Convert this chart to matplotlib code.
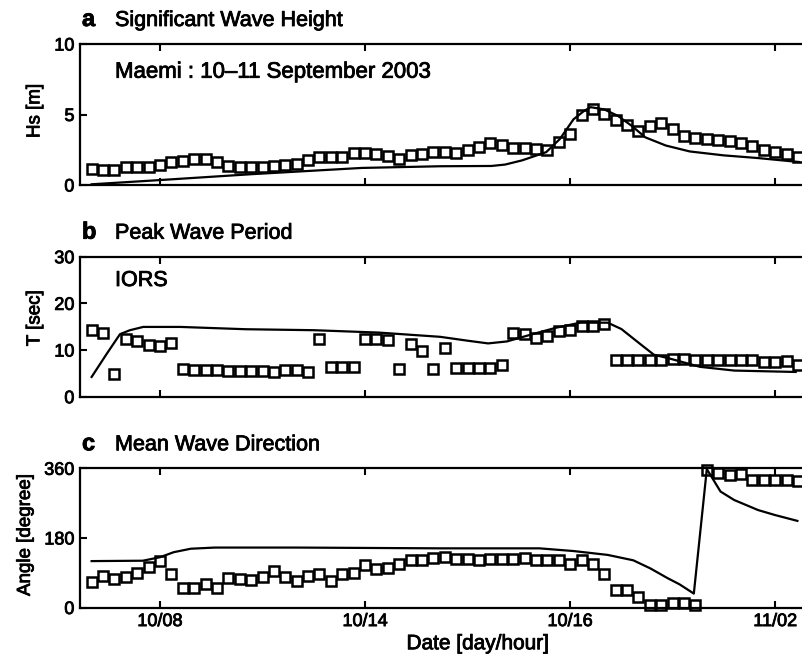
import numpy as np
import matplotlib
matplotlib.use("Agg")
import matplotlib.pyplot as plt
import matplotlib.patheffects as pe

plt.rcParams['font.family'] = ['Liberation Sans', 'DejaVu Sans']

# observation times (hours from 10/00), one every 20 minutes
obs_t = 6 + np.arange(63) / 3.0

hs_obs = [1.17, 1.05, 1.05, 1.28, 1.28, 1.28, 1.40, 1.63, 1.70, 1.86, 1.86, 1.63, 1.33, 1.28, 1.28, 1.28,
          1.33, 1.40, 1.47, 1.80, 1.98, 1.98, 1.98, 2.26, 2.28, 2.21, 2.05, 1.86, 2.15, 2.17, 2.33,
          2.33, 2.28, 2.45, 2.68, 2.96, 2.87, 2.63, 2.61, 2.52, 2.45, 3.03, 3.61, 4.94, 5.36, 5.01,
          4.62, 4.24, 3.85, 4.20, 4.38, 3.96, 3.45, 3.31, 3.26, 3.19, 3.15, 2.98, 2.80, 2.45, 2.33,
          2.21, 1.98]
hs_model_t = [6.0, 8.0, 10.7, 13.9, 16.2, 17.7, 18.1, 18.6, 19.3, 19.7, 20.1, 20.4, 20.6, 21.0,
              21.4, 21.8, 22.2, 22.8, 23.5, 24.5, 25.5, 26.7]
hs_model = [0.05, 0.35, 0.77, 1.21, 1.33, 1.35, 1.45, 1.75, 2.33, 3.26, 4.66, 5.24, 5.52, 5.36,
            4.9, 4.2, 3.38, 2.8, 2.38, 2.1, 1.91, 1.63]

tp_obs = [14.25, 13.6, 4.8, 12.35, 12.0, 11.08, 10.78, 11.5, 6.0, 5.8, 5.8, 5.64, 5.43, 5.43, 5.5,
          5.43, 5.29, 5.64, 5.64, 5.29, 12.47, 6.34, 6.34, 6.34, 12.47, 12.47, 12.2, 5.86, 11.29,
          9.73, 5.86, 10.36,
          6.13, 6.13, 6.13, 6.13, 6.85, 13.6, 13.4, 12.68, 13.04, 14.1, 14.25, 15.16, 15.16, 15.64,
          7.76, 7.97, 7.97, 7.97, 7.76, 8.12, 8.12, 7.76, 7.9, 7.97, 7.97, 7.97, 7.97, 7.4, 7.4,
          7.55, 6.85]
tp_model_t = [6.0, 6.44, 6.83, 7.12, 7.51, 8.6, 10.5, 12.5, 14.4, 16.2, 17.0, 17.6, 18.15, 18.9,
              19.6, 20.3, 21.1, 21.5, 22.05, 22.45, 22.9, 23.8, 24.8, 26.6]
tp_model = [4.23, 9.17, 13.4, 14.25, 14.95, 14.95, 14.46, 14.25, 13.74, 12.83, 12.0, 11.42, 11.84,
            13.4, 14.8, 15.86, 15.86, 14.5, 11.3, 9.0, 8.2, 6.4, 5.6, 5.3]

dir_obs = [65.7, 81.3, 74.5, 78.7, 89.1, 104.7, 119.5, 85.7, 51.2, 51.2, 59.7, 51.2, 77.1, 74.5,
           70.1, 78.7, 93.5, 78.7, 68.3, 80.5, 87.5, 68.3, 87.5, 90.1, 110.9, 98.7, 102.1, 113.5,
           123.9, 123.9, 128.0, 130.6,
           126.5, 124.7, 122.1, 124.7, 124.7, 124.7, 128.0, 122.1, 122.1, 122.1, 113.5, 122.1, 113.5,
           85.7, 46.0, 44.1, 26.7, 5.2, 5.2, 11.2, 11.2, 7.0, 355.0, 347.2, 342.8, 345.4, 329.8,
           329.8, 329.8, 329.8, 328.0]
dir_model_t = [6.0, 7.5, 8.0, 8.4, 8.9, 9.6, 12.0, 16.2, 19.1, 20.1, 21.1, 21.85, 22.35, 22.85,
               23.2, 23.62, 24.0, 24.4, 24.8, 25.5, 26.0, 26.65]
dir_model = [120, 121, 130, 143, 152, 155, 155, 153, 153, 146, 136, 122, 101, 76, 60, 36, 358,
             300, 278, 252, 239, 224]

xtick_pos = [8, 14, 20, 26]
xtick_labels = ['10/08', '10/14', '10/16', '11/02']

# slightly heavier text, like the scanned original
heavy = [pe.withStroke(linewidth=0.6, foreground='black')]

W, H = 802, 665
fig = plt.figure(figsize=(W / 100, H / 100), dpi=100)

def make_ax(top, bottom):
    ax = fig.add_axes([80 / W, 1 - bottom / H, (876 - 80) / W, (bottom - top) / H])
    ax.set_xlim(5.66, 28.95)
    ax.set_xticks(xtick_pos)
    ax.tick_params(direction='in', top=True, right=True, length=5, width=1.5,
                   labelsize=13, pad=4)
    for s in ax.spines.values():
        s.set_linewidth(1.6)
    return ax

panels = [
    (44, 185, 'a', 'Significant Wave Height', hs_obs, hs_model_t, hs_model, (0, 10), [0, 5, 10], 'Hs [m]', 0.525),
    (256.7, 396.7, 'b', 'Peak Wave Period', tp_obs, tp_model_t, tp_model, (0, 30), [0, 10, 20, 30], 'T [sec]', 0.56),
    (468.3, 607.5, 'c', 'Mean Wave Direction', dir_obs, dir_model_t, dir_model, (0, 360), [0, 180, 360], 'Angle [degree]', 0.52),
]

axes = []
for top, bottom, letter, title, obs, mt, mv, ylim, yt, ylab, ly in panels:
    ax = make_ax(top, bottom)
    ax.plot(mt, mv, color='black', lw=1.6)
    ax.plot(obs_t, obs, ls='none', marker='s', ms=7, mfc='none', mec='black', mew=1.8, clip_on=False)
    ax.set_ylim(*ylim)
    ax.set_yticks(yt)
    ax.set_ylabel(ylab, fontsize=13.5, path_effects=heavy)
    ax.yaxis.set_label_coords(-0.046 if letter != 'c' else -0.058, ly)
    fig.text(82 / W, 1 - (top - 18) / H, letter, fontsize=17, fontweight='bold', va='baseline',
             path_effects=heavy)
    fig.text(115 / W, 1 - (top - 18) / H, title, fontsize=15.5, va='baseline', path_effects=heavy)
    axes.append(ax)

axes[0].set_xticklabels([])
axes[1].set_xticklabels([])
axes[2].set_xticklabels(xtick_labels)
axes[2].set_xlabel('Date [day/hour]', fontsize=15, labelpad=3, path_effects=heavy)

for ax in axes:
    for lab in ax.get_xticklabels() + ax.get_yticklabels():
        lab.set_path_effects(heavy)

axes[0].text(0.044, 0.80, 'Maemi : 10\u201311 September 2003', transform=axes[0].transAxes,
             fontsize=16, va='center', path_effects=heavy)
axes[1].text(0.044, 0.83, 'IORS', transform=axes[1].transAxes, fontsize=15.5, va='center',
             path_effects=heavy)

fig.savefig('out.png', dpi=100)
